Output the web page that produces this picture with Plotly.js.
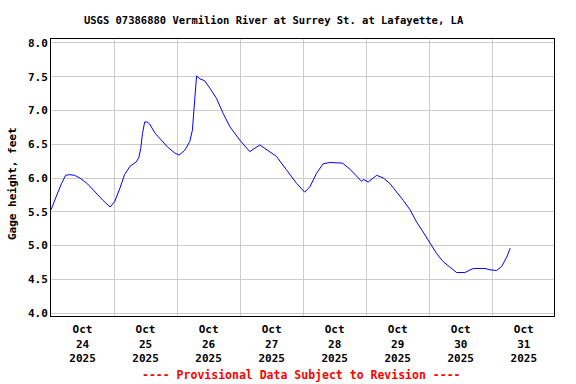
<!DOCTYPE html>
<html>
<head>
<meta charset="utf-8">
<script src="https://cdn.plot.ly/plotly-3.0.1.min.js"></script>
<style>html,body{margin:0;padding:0;background:#fff;}#chart{width:576px;height:384px;}</style>
</head>
<body>
<div id="chart"></div>
<script>
// Gage height readings (feet)
const times = [
  '2025-10-24 00:00','2025-10-24 02:00','2025-10-24 04:00','2025-10-24 05:36','2025-10-24 07:00',
  '2025-10-24 09:00','2025-10-24 11:00','2025-10-24 14:00','2025-10-24 17:15','2025-10-24 19:45',
  '2025-10-24 22:30','2025-10-25 00:15','2025-10-25 02:15','2025-10-25 04:00','2025-10-25 06:00',
  '2025-10-25 08:30','2025-10-25 09:30','2025-10-25 10:10','2025-10-25 10:50','2025-10-25 11:40',
  '2025-10-25 12:35','2025-10-25 13:35','2025-10-25 15:30','2025-10-25 18:05','2025-10-25 20:35',
  '2025-10-25 23:10','2025-10-26 00:45','2025-10-26 02:55','2025-10-26 04:50','2025-10-26 05:50',
  '2025-10-26 06:20','2025-10-26 06:45','2025-10-26 07:25','2025-10-26 08:40','2025-10-26 10:30',
  '2025-10-26 12:30','2025-10-26 15:00','2025-10-26 17:30','2025-10-26 20:05','2025-10-26 23:55',
  '2025-10-27 03:40','2025-10-27 07:30','2025-10-27 11:20','2025-10-27 13:50','2025-10-27 17:40',
  '2025-10-27 21:30','2025-10-28 00:35','2025-10-28 02:35','2025-10-28 05:05','2025-10-28 07:35',
  '2025-10-28 10:10','2025-10-28 15:00','2025-10-28 17:50','2025-10-28 21:00','2025-10-28 22:15',
  '2025-10-28 22:55','2025-10-29 00:45','2025-10-29 04:00','2025-10-29 06:30','2025-10-29 09:00',
  '2025-10-29 11:35','2025-10-29 14:05','2025-10-29 16:40','2025-10-29 19:10','2025-10-29 21:40',
  '2025-10-30 00:15','2025-10-30 02:50','2025-10-30 05:20','2025-10-30 07:55','2025-10-30 10:25',
  '2025-10-30 13:35','2025-10-30 16:45','2025-10-30 21:15','2025-10-30 23:05','2025-10-31 01:40',
  '2025-10-31 03:35','2025-10-31 05:30','2025-10-31 06:50'
];
const gageHeight = [
  5.53,5.72,5.92,6.04,6.05,
  6.04,6.00,5.91,5.77,5.67,
  5.57,5.65,5.85,6.05,6.17,
  6.24,6.31,6.44,6.66,6.83,
  6.83,6.80,6.67,6.55,6.45,
  6.37,6.34,6.41,6.54,6.71,
  7.01,7.20,7.51,7.47,7.44,
  7.33,7.18,6.96,6.76,6.56,
  6.39,6.49,6.39,6.32,6.12,
  5.92,5.79,5.87,6.07,6.21,
  6.23,6.22,6.13,6.01,5.95,
  5.98,5.94,6.04,6.00,5.92,
  5.80,5.67,5.53,5.35,5.20,
  5.03,4.88,4.76,4.68,4.60,
  4.60,4.66,4.66,4.64,4.63,
  4.69,4.83,4.96
];
const tickDates = ['2025-10-24 12:00','2025-10-25 12:00','2025-10-26 12:00','2025-10-27 12:00',
                   '2025-10-28 12:00','2025-10-29 12:00','2025-10-30 12:00','2025-10-31 12:00'];
const tickLabels = ['Oct<br>24<br>2025','Oct<br>25<br>2025','Oct<br>26<br>2025','Oct<br>27<br>2025',
                    'Oct<br>28<br>2025','Oct<br>29<br>2025','Oct<br>30<br>2025','Oct<br>31<br>2025'];
const yTicks = [4.0,4.5,5.0,5.5,6.0,6.5,7.0,7.5,8.0];

const FONT = 'DejaVu Sans Mono';
const trace = {
  x: times, y: gageHeight, type: 'scatter', mode: 'lines',
  line: {color: '#0000ff', width: 1}, hoverinfo: 'skip'
};
const layout = {
  width: 576, height: 384,
  margin: {l: 51, r: 22, t: 39, b: 68},
  paper_bgcolor: '#ffffff', plot_bgcolor: '#ffffff',
  showlegend: false,
  font: {family: FONT, size: 11, color: '#000000', weight: 'bold'},
  title: {
    text: 'USGS 07386880 Vermilion River at Surrey St. at Lafayette, LA',
    font: {family: FONT, size: 10.5, color: '#000000', weight: 'bold'},
    x: 0.475, xref: 'container', xanchor: 'center',
    y: 1 - 20/384, yref: 'container', yanchor: 'middle'
  },
  xaxis: {
    type: 'date',
    range: ['2025-10-24 00:00', '2025-10-31 23:30'],
    tickmode: 'array', tickvals: tickDates, ticktext: tickLabels,
    ticks: '', showgrid: false, zeroline: false, ticklabelstandoff: 3,
    showline: true, mirror: true, linecolor: '#000000', linewidth: 1,
    tickfont: {family: FONT, size: 11, color: '#000000', weight: 'bold'},
    minor: {tick0: '2025-10-24', dtick: 86400000, showgrid: true, gridcolor: '#cccccc', gridwidth: 1, ticks: ''}
  },
  yaxis: {
    range: [3.956, 8.059],
    tickmode: 'array', tickvals: yTicks, ticktext: yTicks.map(v => v.toFixed(1)),
    ticks: '', showgrid: true, gridcolor: '#cccccc', gridwidth: 1, zeroline: false,
    showline: true, mirror: true, linecolor: '#000000', linewidth: 1,
    tickfont: {family: FONT, size: 11, color: '#000000', weight: 'bold'}
  },
  annotations: [
    {
      text: 'Gage height, feet', textangle: -90,
      xref: 'paper', yref: 'paper', x: -0.0775, y: 0.4765,
      xanchor: 'center', yanchor: 'middle', showarrow: false,
      font: {family: FONT, size: 11, color: '#000000', weight: 'bold'}
    },
    {
      text: '---- Provisional Data Subject to Revision ----',
      xref: 'paper', yref: 'paper', x: 0.498, y: -0.213,
      xanchor: 'center', yanchor: 'middle', showarrow: false,
      font: {family: FONT, size: 11.5, color: '#ff0000', weight: 'bold'}
    }
  ]
};
Plotly.newPlot('chart', [trace], layout, {staticPlot: true, displayModeBar: false});
</script>
</body>
</html>
